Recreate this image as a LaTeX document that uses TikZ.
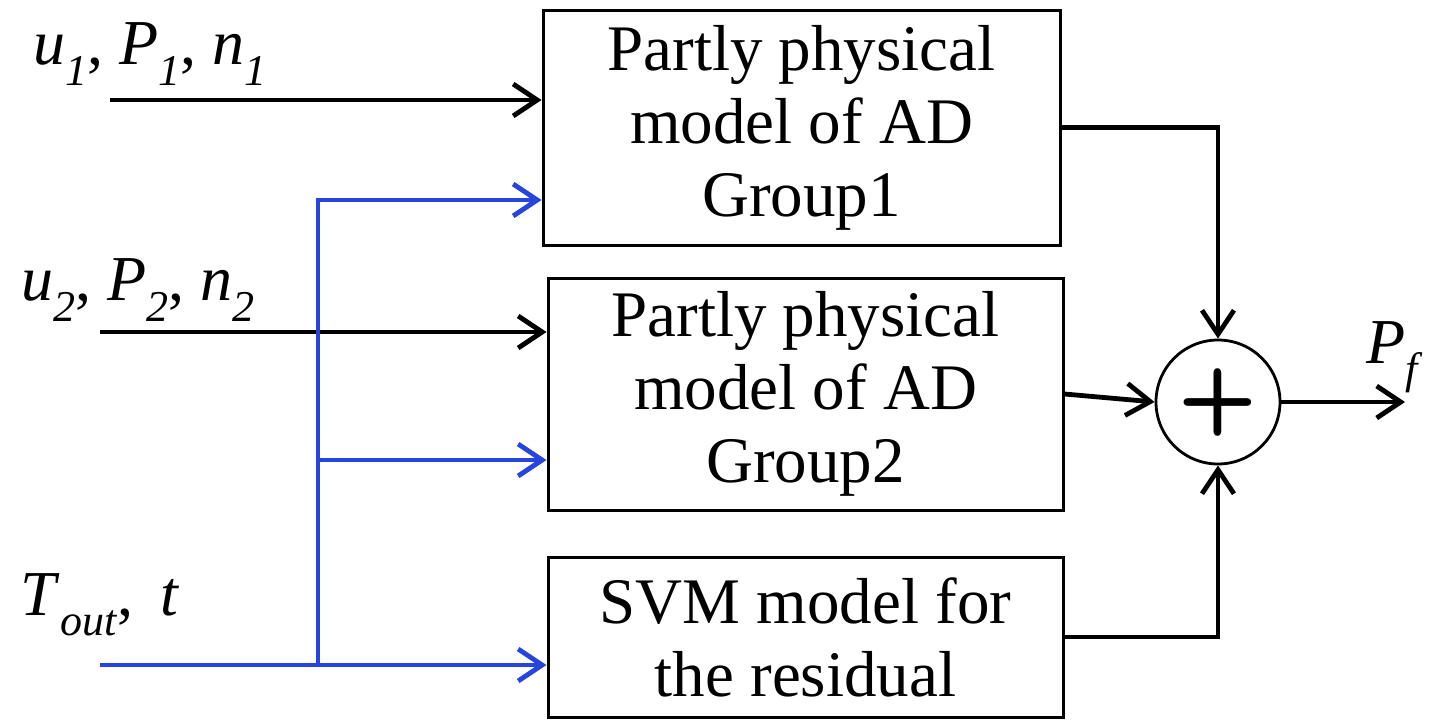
\documentclass[tikz,border=0pt]{standalone}
\usepackage{fontspec}
\setmainfont{Liberation Serif}
\usetikzlibrary{arrows.meta}
\definecolor{sigblue}{RGB}{38,68,222}
\newcommand{\insig}[2]{\textit{#1}\raisebox{-0.32em}{\fontsize{22}{22}\selectfont\textit{#2}}}

\begin{document}
\begin{tikzpicture}[x=0.5pt,y=-0.5pt]
    \tikzstyle{block} = [rectangle, draw, line width=1.5pt, inner sep=0pt, align=center, font=\fontsize{32.5}{36.5}\selectfont]
    \tikzstyle{sum} = [circle, draw, line width=1.4pt, minimum size=62pt, inner sep=0pt]
    \tikzstyle{sig} = [line width=2.4pt, -{Straight Barb[length=12pt,width=16pt,line width=2.4pt]}]
    \tikzstyle{lbl} = [font=\fontsize{32}{36}\selectfont, inner sep=0pt]

    \useasboundingbox (0,0) rectangle (1442,728);

      \draw
        (801.5,127.5) node[block, minimum width=258.5pt, minimum height=117.5pt] (g1){Partly physical\\model of AD\\Group1}
        (805.5,394) node[block, minimum width=257.5pt, minimum height=116pt] (g2){Partly physical\\model of AD\\Group2}
        (805.5,637) node[block, minimum width=257.5pt, minimum height=80pt] (svm){SVM model for\\the residual}
        (1218,402) node[sum] (sum){\fontsize{46}{46}\selectfont\sffamily\bfseries +};

      \node[lbl] (l1) at (150,54) {\insig{u}{1}, \insig{P}{1}, \insig{n}{1}};
      \node[lbl] (l2) at (138,290) {\insig{u}{2}, \insig{P}{2}, \insig{n}{2}};
      \node[lbl] (l3) at (100,605) {\insig{T}{out}, \,\textit{t}};
      \node[lbl] (lf) at (1395,357) {\insig{P}{f}};

      \coordinate (a1) at (110,100);
      \coordinate (a2) at (100,332);
      \coordinate (a3) at (100,665);
      \coordinate (bus) at (318,665);
      \coordinate (bustop) at (318,200);
      \coordinate (busmid) at (318,460);
      \coordinate (out) at (1405,402);

      \begin{scope}
        \draw[sig] (a1) -- (g1.west |- a1);
        \draw[sig] (a2) -- (g2.west |- a2);
        \draw[sig, sigblue] (a3) -- (svm.west |- a3);
        \draw[sig, sigblue] (bus) -- (bustop) -- (g1.west |- bustop);
        \draw[sig, sigblue] (busmid) -- (g2.west |- busmid);
        \draw[sig] (g1.east) -| (sum.north);
        \draw[sig] (g2.east) -- (sum.west);
        \draw[sig] (svm.east) -| (sum.south);
        \draw[sig] (sum.east) -- (out);
      \end{scope}
    \end{tikzpicture}
\end{document}
